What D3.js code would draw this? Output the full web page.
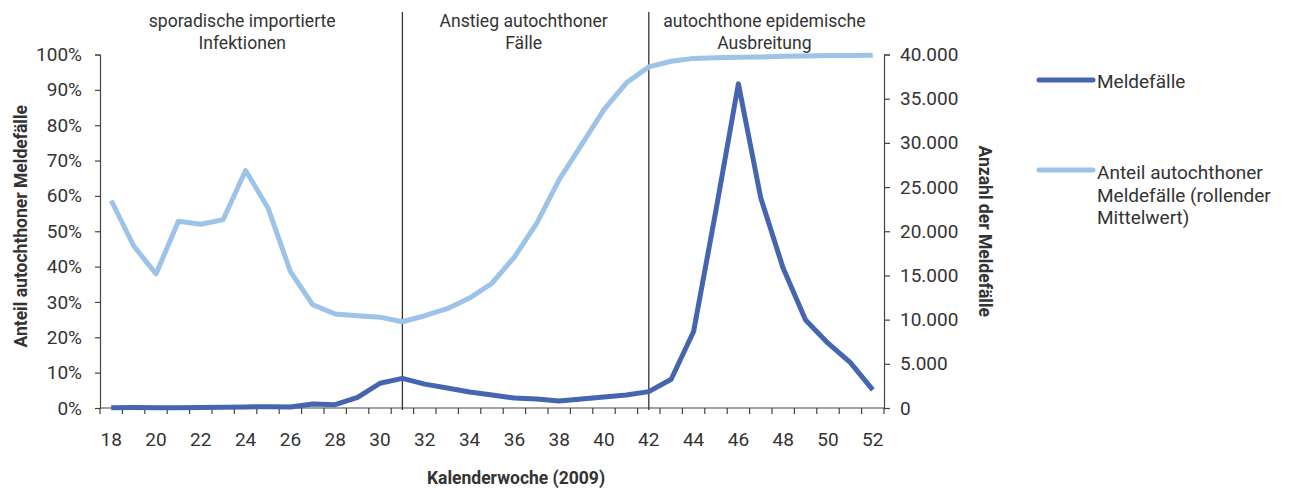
<!DOCTYPE html>
<html>
<head>
<meta charset="utf-8">
<script src="https://cdn.jsdelivr.net/npm/d3@7"></script>
<style>
  html, body { margin: 0; padding: 0; background: #fff; }
  svg { display: block; font-family: Roboto, "Open Sans", sans-serif; }
</style>
</head>
<body>
<svg id="chart" width="1293" height="489"></svg>
<script>
// ---- data ----
const weeks = [18,19,20,21,22,23,24,25,26,27,28,29,30,31,32,33,34,35,36,37,38,39,40,41,42,43,44,45,46,47,48,49,50,51,52];
const shareAutochthonous = [0.587,0.459,0.379,0.528,0.520,0.533,0.672,0.566,0.386,0.292,0.266,0.261,0.257,0.244,0.261,0.281,0.311,0.353,0.427,0.523,0.646,0.745,0.844,0.920,0.965,0.981,0.989,0.991,0.992,0.993,0.995,0.996,0.997,0.997,0.998];
const cases = [40,60,40,40,60,80,120,150,120,450,370,1200,2800,3350,2700,2270,1810,1470,1130,1020,790,1020,1250,1470,1850,3250,8650,22400,36700,23750,15800,9950,7330,5130,2050];
const leftTicks = [0,0.1,0.2,0.3,0.4,0.5,0.6,0.7,0.8,0.9,1.0];
const rightTicks = [0,5000,10000,15000,20000,25000,30000,35000,40000];
const xLabelWeeks = [18,20,22,24,26,28,30,32,34,36,38,40,42,44,46,48,50,52];
const phaseBreaks = [31,42];
const phaseLabels = [
  ["sporadische importierte","Infektionen"],
  ["Anstieg autochthoner","Fälle"],
  ["autochthone epidemische","Ausbreitung"]
];
const seriesNames = ["Meldefälle", ["Anteil autochthoner","Meldefälle (rollender","Mittelwert)"]];
const titles = { left: "Anteil autochthoner Meldefälle", right: "Anzahl der Meldefälle", bottom: "Kalenderwoche (2009)" };

// ---- layout ----
const svg = d3.select("#chart");
const L = 100, R = 884, T = 54.5, B = 408;
const darkBlue = "#4565b0", lightBlue = "#9dc3e8", textCol = "#333", axisCol = "#444";

const x = d3.scaleBand().domain(weeks).range([L, R]).paddingInner(0).paddingOuter(0);
const cx = w => x(w) + x.bandwidth() / 2;
const yL = d3.scaleLinear().domain([0, 1]).range([B, T]);
const yR = d3.scaleLinear().domain([0, 40000]).range([B, T]);
const de = d3.formatLocale({decimal: ",", thousands: ".", grouping: [3], currency: ["", "€"]});
const fmtR = de.format(",.0f");

// left axis
const gL = svg.append("g").attr("transform", `translate(${L},0)`)
  .call(d3.axisLeft(yL).tickValues(leftTicks).tickFormat(d => Math.round(d * 100) + "%").tickSizeOuter(0).tickSize(5).tickPadding(13));
// right axis
const gR = svg.append("g").attr("transform", `translate(${R},0)`)
  .call(d3.axisRight(yR).tickValues(rightTicks).tickFormat(fmtR).tickSizeOuter(0).tickSize(6).tickPadding(10));
// bottom axis: ticks at band boundaries
const boundaries = weeks.map(w => x(w)).concat([R]);
const gB = svg.append("g");
gB.append("line").attr("x1", L).attr("x2", R).attr("y1", B).attr("y2", B);
gB.selectAll("line.t").data(boundaries).join("line").attr("class", "t")
  .attr("x1", d => d).attr("x2", d => d).attr("y1", B).attr("y2", B + 6);
gB.selectAll("line").attr("stroke", axisCol).attr("stroke-width", 1.2);
gB.selectAll("text").data(xLabelWeeks).join("text")
  .attr("x", d => cx(d)).attr("y", 446).attr("text-anchor", "middle")
  .attr("font-size", 19).attr("fill", textCol).text(d => d);

[gL, gR].forEach(g => {
  g.select(".domain").attr("stroke", axisCol).attr("stroke-width", 1.2);
  g.selectAll(".tick line").attr("stroke", axisCol).attr("stroke-width", 1.2);
  g.selectAll(".tick text").attr("font-size", 19).attr("fill", textCol).attr("font-family", "Roboto, sans-serif");
});

// phase separators
svg.selectAll("line.phase").data(phaseBreaks).join("line").attr("class", "phase")
  .attr("x1", d => cx(d)).attr("x2", d => cx(d)).attr("y1", 12).attr("y2", 410)
  .attr("stroke", "#333").attr("stroke-width", 1.3);

// phase labels
const edges = [L, cx(phaseBreaks[0]), cx(phaseBreaks[1]), R];
phaseLabels.forEach((lines, i) => {
  const mx = (edges[i] + edges[i + 1]) / 2 - (i === 0 ? 9 : 2);
  const t = svg.append("text").attr("text-anchor", "middle").attr("font-size", 17.6).attr("fill", textCol);
  lines.forEach((s, j) => t.append("tspan").attr("x", mx).attr("y", 27 + j * 21.5).text(s));
});

// lines
const lineShare = d3.line().x((d, i) => cx(weeks[i])).y(d => yL(d));
const lineCases = d3.line().x((d, i) => cx(weeks[i])).y(d => yR(d));
svg.append("path").datum(shareAutochthonous).attr("d", lineShare)
  .attr("fill", "none").attr("stroke", lightBlue).attr("stroke-width", 5).attr("stroke-linejoin", "round");
svg.append("path").datum(cases).attr("d", lineCases)
  .attr("fill", "none").attr("stroke", darkBlue).attr("stroke-width", 5).attr("stroke-linejoin", "round");

// axis titles
svg.append("text").attr("transform", `translate(27,${(T + B) / 2 - 5}) rotate(-90)`)
  .attr("text-anchor", "middle").attr("font-size", 17.5).attr("font-weight", "bold").attr("fill", textCol).text(titles.left);
svg.append("text").attr("transform", `translate(979,${(T + B) / 2}) rotate(90)`)
  .attr("text-anchor", "middle").attr("font-size", 17.5).attr("font-weight", "bold").attr("fill", textCol).text(titles.right);
svg.append("text").attr("x", 516).attr("y", 484)
  .attr("text-anchor", "middle").attr("font-size", 17.5).attr("font-weight", "bold").attr("fill", textCol).text(titles.bottom);

// legend
const lg = svg.append("g");
lg.append("line").attr("x1", 1039).attr("x2", 1093).attr("y1", 80).attr("y2", 80)
  .attr("stroke", darkBlue).attr("stroke-width", 5).attr("stroke-linecap", "round");
lg.append("text").attr("x", 1097).attr("y", 88).attr("font-size", 19).attr("fill", textCol).text(seriesNames[0]);
lg.append("line").attr("x1", 1039).attr("x2", 1093).attr("y1", 170).attr("y2", 170)
  .attr("stroke", lightBlue).attr("stroke-width", 5).attr("stroke-linecap", "round");
const lt = lg.append("text").attr("font-size", 19).attr("fill", textCol);
seriesNames[1].forEach((s, j) => lt.append("tspan").attr("x", 1097).attr("y", 179 + j * 22.5).text(s));
</script>
</body>
</html>
